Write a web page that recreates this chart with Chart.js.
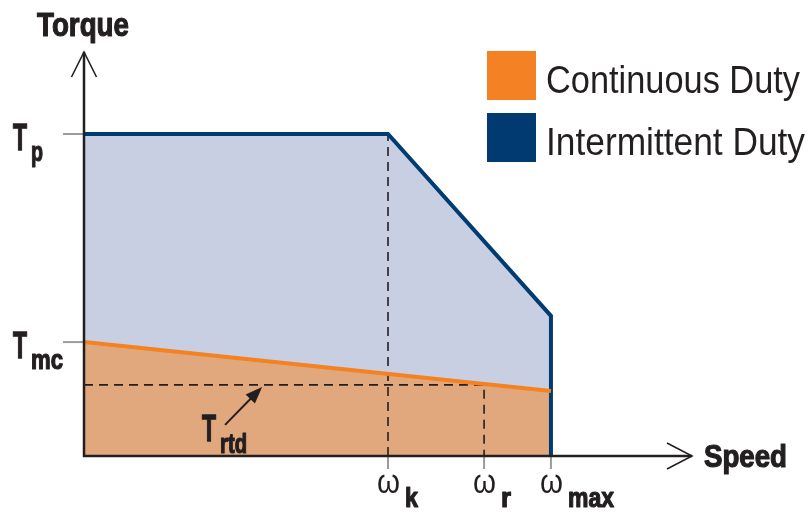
<!DOCTYPE html>
<html>
<head>
<meta charset="utf-8">
<script src="https://cdn.jsdelivr.net/npm/chart.js@4.4.0/dist/chart.umd.min.js"></script>
<style>
  html, body { margin: 0; padding: 0; background: #fff; }
  #wrap { width: 810px; height: 513px; }
</style>
</head>
<body>
<div id="wrap"><canvas id="myChart" width="810" height="513"></canvas></div>
<script>
// speed axis (0..100 = axis length), torque axis (0..100 = axis length)
const speedTicks = ['k', 'r', 'max'];
const speedValues = [50, 65.8, 76.8];
const torqueTicks = ['p', 'mc'];
const torqueValues = [79.7, 28.2];
const ratedTorque = 17.6;

const intermittentX = [0, 50, 76.8, 76.8];
const intermittentY = [79.7, 79.7, 34.7, 0];
const continuousX = [0, 76.8];
const continuousY = [28.2, 16.1];

const toPoints = (xs, ys) => xs.map((v, i) => ({ x: v, y: ys[i] }));

const NAVY = '#003b72';
const ORANGE = '#f58220';
const INK = '#231f20';
const NARROW = "'Liberation Sans Narrow', 'Liberation Sans', Arial, sans-serif";

function fitText(ctx, txt, left, baseline, font, width, heavy) {
    ctx.font = font;
    const w = ctx.measureText(txt).width;
    ctx.save();
    ctx.translate(left, baseline);
    ctx.scale(width / w, 1);
    ctx.fillText(txt, 0, 0);
    if (heavy) {
        ctx.lineWidth = heavy;
        ctx.strokeStyle = ctx.fillStyle;
        ctx.lineJoin = 'round';
        ctx.strokeText(txt, 0, 0);
    }
    ctx.restore();
}

const diagram = {
    id: 'diagram',
    afterDatasetsDraw(chart) {
        const { ctx, scales: { x, y } } = chart;
        const x0 = x.getPixelForValue(0);
        const y0 = y.getPixelForValue(0);
        const xEnd = x.getPixelForValue(100);
        const yEnd = y.getPixelForValue(100);

        ctx.save();
        ctx.lineCap = 'butt';

        // gray tick marks
        ctx.strokeStyle = '#9b9b9b';
        ctx.lineWidth = 2;
        torqueValues.forEach(v => {
            const py = y.getPixelForValue(v);
            ctx.beginPath(); ctx.moveTo(x0 - 21, py); ctx.lineTo(x0, py); ctx.stroke();
        });
        speedValues.forEach(v => {
            const px = x.getPixelForValue(v);
            ctx.beginPath(); ctx.moveTo(px, y0); ctx.lineTo(px, y0 + 13); ctx.stroke();
        });

        // axes
        ctx.strokeStyle = INK;
        ctx.lineWidth = 2.5;
        ctx.beginPath();
        ctx.moveTo(x0, y0 + 1); ctx.lineTo(x0, yEnd);
        ctx.moveTo(x0 - 1, y0); ctx.lineTo(xEnd, y0);
        ctx.stroke();
        ctx.lineWidth = 1.6;
        ctx.beginPath();
        ctx.moveTo(x0 - 12.5, yEnd + 25); ctx.lineTo(x0, yEnd); ctx.lineTo(x0 + 12.5, yEnd + 25);
        ctx.moveTo(xEnd - 25, y0 - 13); ctx.lineTo(xEnd, y0); ctx.lineTo(xEnd - 25, y0 + 13);
        ctx.stroke();

        // rated torque pointer
        const tipX = x.getPixelForValue(29.3), tipY = y.getPixelForValue(ratedTorque) + 2;
        const tailX = x.getPixelForValue(23.2), tailY = y.getPixelForValue(7.7);
        const ang = Math.atan2(tipY - tailY, tipX - tailX);
        ctx.lineWidth = 2;
        ctx.beginPath();
        ctx.moveTo(tailX, tailY);
        ctx.lineTo(tipX - 12 * Math.cos(ang), tipY - 12 * Math.sin(ang));
        ctx.stroke();
        ctx.fillStyle = INK;
        ctx.beginPath();
        ctx.moveTo(tipX, tipY);
        ctx.lineTo(tipX - 17 * Math.cos(ang) + 6.5 * Math.sin(ang), tipY - 17 * Math.sin(ang) - 6.5 * Math.cos(ang));
        ctx.lineTo(tipX - 17 * Math.cos(ang) - 6.5 * Math.sin(ang), tipY - 17 * Math.sin(ang) + 6.5 * Math.cos(ang));
        ctx.closePath();
        ctx.fill();

        // text
        ctx.textAlign = 'left';
        ctx.textBaseline = 'alphabetic';
        ctx.fillStyle = INK;
        fitText(ctx, 'Torque', 37, 36, 'bold 34px ' + NARROW, 92, 1.2);
        fitText(ctx, 'Speed', 704, 467, 'bold 31px ' + NARROW, 83, 1.2);

        torqueValues.forEach((v, i) => {
            const py = y.getPixelForValue(v);
            fitText(ctx, 'T', 13, py + 16, 'bold 36px ' + NARROW, 14, 1.4);
            const sub = torqueTicks[i];
            fitText(ctx, sub, 31, py + 27, 'bold 27px ' + NARROW, sub.length === 1 ? 12 : 32, 1.2);
        });

        const subW = { k: 13, r: 10, max: 46 };
        speedValues.forEach((v, i) => {
            const px = x.getPixelForValue(v);
            fitText(ctx, 'ω', px - 11, 493, '33px ' + NARROW, 23);
            fitText(ctx, speedTicks[i], px + 17, 507, 'bold 27px ' + NARROW, subW[speedTicks[i]], 1.2);
        });

        fitText(ctx, 'T', 202, 441, 'bold 36px ' + NARROW, 14, 1.4);
        fitText(ctx, 'rtd', 220, 453, 'bold 27px ' + NARROW, 27, 1.2);

        // legend
        const legend = chart.data.datasets.filter(d => d.legendColor);
        legend.forEach((d, i) => {
            const top = 51 + i * 62;
            ctx.fillStyle = d.legendColor;
            ctx.fillRect(487, top, 49, 49);
            ctx.fillStyle = INK;
            fitText(ctx, d.label, 546, top + 42, '39px ' + NARROW, i === 0 ? 254 : 259);
        });
        ctx.restore();
    }
};

new Chart(document.getElementById('myChart'), {
    type: 'scatter',
    data: {
        datasets: [
            {
                label: 'Continuous Duty',
                legendColor: '#f48225',
                data: toPoints(continuousX, continuousY),
                showLine: true,
                fill: 'origin',
                backgroundColor: '#e1a87e',
                borderColor: ORANGE,
                borderWidth: 4,
                pointRadius: 0,
                order: 0
            },
            {
                label: 'Intermittent Duty',
                legendColor: '#003a70',
                data: toPoints(intermittentX, intermittentY),
                showLine: true,
                fill: 'origin',
                backgroundColor: '#c8cfe2',
                borderColor: NAVY,
                borderWidth: 4,
                borderJoinStyle: 'miter',
                pointRadius: 0,
                order: 1
            },
            {
                label: 'knee',
                data: toPoints([speedValues[0], speedValues[0]], [0, torqueValues[0]]),
                showLine: true,
                fill: false,
                borderColor: INK,
                borderWidth: 1.6,
                borderDash: [9, 6],
                pointRadius: 0,
                order: 2
            },
            {
                label: 'rated',
                data: toPoints([0, speedValues[1], speedValues[1]], [ratedTorque, ratedTorque, 0]),
                showLine: true,
                fill: false,
                borderColor: INK,
                borderWidth: 1.6,
                borderDash: [9, 6],
                pointRadius: 0,
                order: 2
            }
        ]
    },
    options: {
        responsive: false,
        animation: false,
        layout: { padding: { left: 84, right: 118, top: 52, bottom: 57 } },
        scales: {
            x: { type: 'linear', min: 0, max: 100, display: false },
            y: { type: 'linear', min: 0, max: 100, display: false }
        },
        plugins: {
            legend: { display: false },
            tooltip: { enabled: false },
            filler: { drawTime: 'beforeDatasetsDraw' }
        }
    },
    plugins: [diagram]
});
</script>
</body>
</html>
